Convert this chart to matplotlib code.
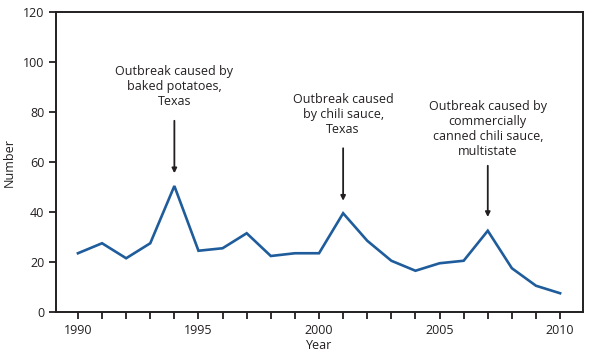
import numpy as np
import matplotlib.pyplot as plt

plt.rcParams['font.family'] = ['Open Sans', 'DejaVu Sans']

years = np.arange(1990, 2011)
cases = [23.5, 27.5, 21.5, 27.5, 50.4, 24.5, 25.5, 31.5, 22.4, 23.5, 23.5,
         39.5, 28.5, 20.5, 16.5, 19.5, 20.5, 32.5, 17.5, 10.5, 7.5]

notes = ["Outbreak caused by\nbaked potatoes,\nTexas",
         "Outbreak caused\nby chili sauce,\nTexas",
         "Outbreak caused by\ncommercially\ncanned chili sauce,\nmultistate"]
note_years = [1994, 2001, 2007]
note_text_y = [81.5, 70.5, 61.5]      # bottom of text block
arrow_top = [76.5, 65.5, 58.5]
arrow_tip = [55.5, 44.5, 38]

ink = '#231f20'
fs = 9

fig = plt.figure(figsize=(5.95, 3.55), dpi=100)
ax = fig.add_axes([56/595, 1 - 312/355, (583 - 56)/595, (312 - 12)/355])

ax.plot(years, cases, color='#1f5c9b', lw=1.9, solid_joinstyle='miter')

for txt, yr, ty, a0, a1 in zip(notes, note_years, note_text_y, arrow_top, arrow_tip):
    ax.text(yr, ty, txt, ha='center', va='bottom', fontsize=fs, color=ink,
            linespacing=1.2)
    ax.annotate('', xy=(yr, a1), xytext=(yr, a0),
                arrowprops=dict(arrowstyle='-|>', color=ink, lw=1.3,
                                mutation_scale=7, shrinkA=0, shrinkB=0))

ax.set_xlim(1989.09, 2010.95)
ax.set_ylim(0, 120)
ax.set_xticks(years)
ax.set_xticklabels([str(y) if y % 5 == 0 else '' for y in years])
ax.set_yticks(np.arange(0, 121, 20))

for s in ax.spines.values():
    s.set_linewidth(1.4)
    s.set_color(ink)
ax.tick_params(direction='out', length=5, width=1.3, color=ink,
               labelsize=fs, labelcolor=ink)
ax.tick_params(axis='x', pad=4)

ax.set_xlabel('Year', fontsize=fs, color=ink, labelpad=1)
ax.set_ylabel('Number', fontsize=fs, color=ink, labelpad=5)

fig.savefig('out.png', dpi=100)
